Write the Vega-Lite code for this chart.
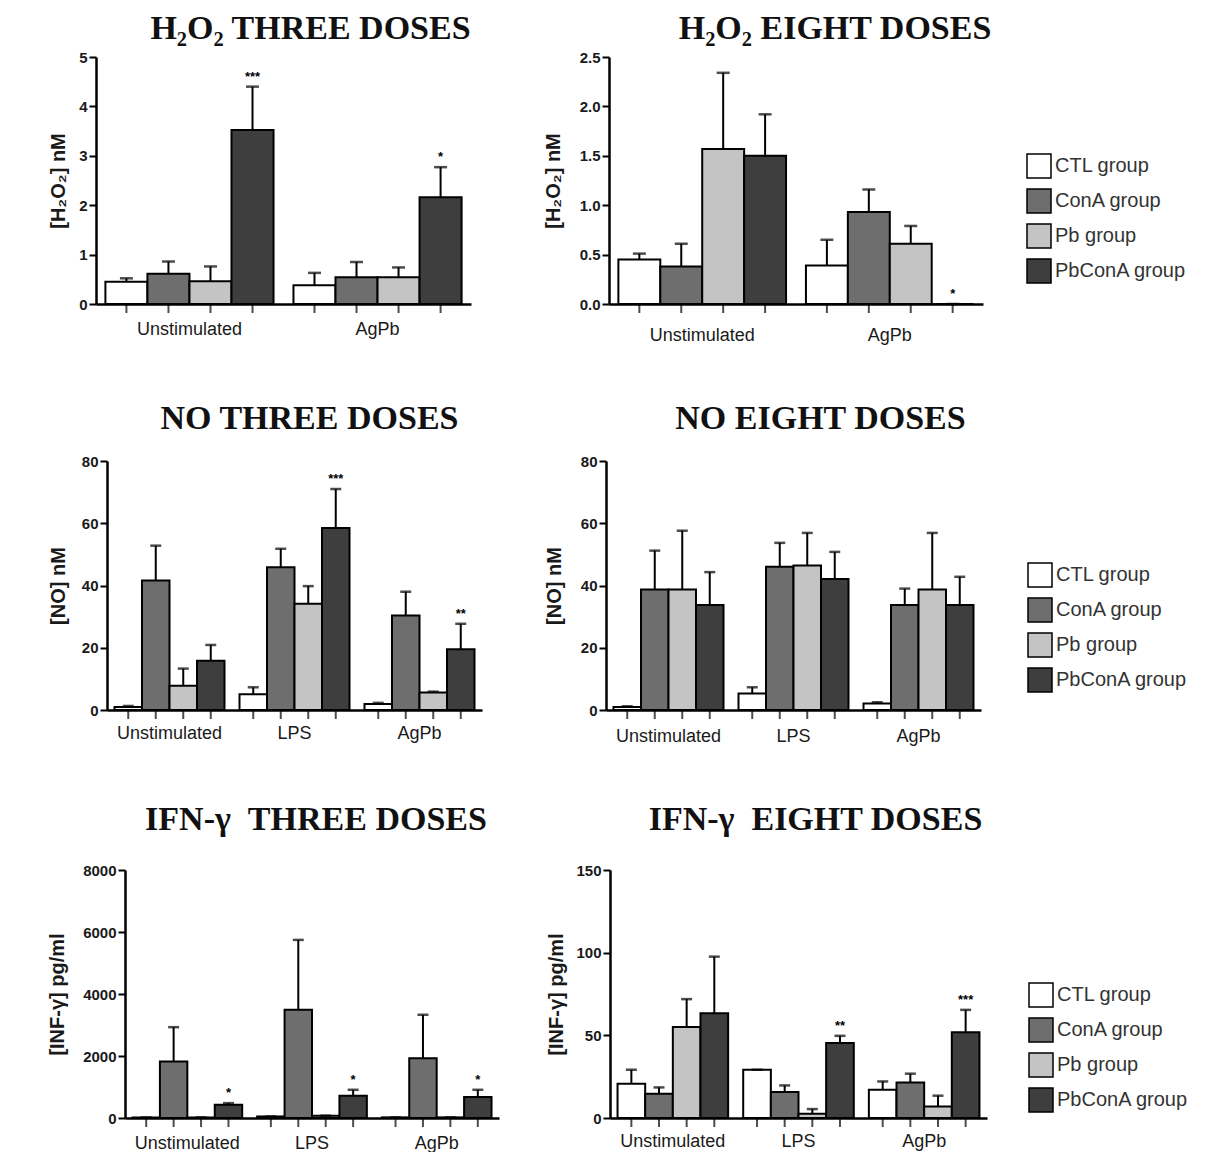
{
"$schema":"https://vega.github.io/schema/vega-lite/v6.json",
"padding":{"left":0,"top":12,"right":0,"bottom":0},
"background":"white",
"datasets":{"d":[
{"p":"h3","s":"Unstimulated","g":"CTL group","v":0.45,"u":0.52,"sig":""},
{"p":"h3","s":"Unstimulated","g":"ConA group","v":0.61,"u":0.86,"sig":""},
{"p":"h3","s":"Unstimulated","g":"Pb group","v":0.46,"u":0.76,"sig":""},
{"p":"h3","s":"Unstimulated","g":"PbConA group","v":3.52,"u":4.40,"sig":"***"},
{"p":"h3","s":"AgPb","g":"CTL group","v":0.38,"u":0.63,"sig":""},
{"p":"h3","s":"AgPb","g":"ConA group","v":0.54,"u":0.85,"sig":""},
{"p":"h3","s":"AgPb","g":"Pb group","v":0.54,"u":0.74,"sig":""},
{"p":"h3","s":"AgPb","g":"PbConA group","v":2.16,"u":2.77,"sig":"*"},
{"p":"h8","s":"Unstimulated","g":"CTL group","v":0.45,"u":0.51,"sig":""},
{"p":"h8","s":"Unstimulated","g":"ConA group","v":0.38,"u":0.61,"sig":""},
{"p":"h8","s":"Unstimulated","g":"Pb group","v":1.57,"u":2.34,"sig":""},
{"p":"h8","s":"Unstimulated","g":"PbConA group","v":1.50,"u":1.92,"sig":""},
{"p":"h8","s":"AgPb","g":"CTL group","v":0.39,"u":0.65,"sig":""},
{"p":"h8","s":"AgPb","g":"ConA group","v":0.93,"u":1.16,"sig":""},
{"p":"h8","s":"AgPb","g":"Pb group","v":0.61,"u":0.79,"sig":""},
{"p":"h8","s":"AgPb","g":"PbConA group","v":0,"u":0,"sig":"*"},
{"p":"n3","s":"Unstimulated","g":"CTL group","v":1.0,"u":1.3,"sig":""},
{"p":"n3","s":"Unstimulated","g":"ConA group","v":41.6,"u":52.8,"sig":""},
{"p":"n3","s":"Unstimulated","g":"Pb group","v":7.8,"u":13.3,"sig":""},
{"p":"n3","s":"Unstimulated","g":"PbConA group","v":15.8,"u":20.9,"sig":""},
{"p":"n3","s":"LPS","g":"CTL group","v":5.1,"u":7.3,"sig":""},
{"p":"n3","s":"LPS","g":"ConA group","v":45.9,"u":51.8,"sig":""},
{"p":"n3","s":"LPS","g":"Pb group","v":34.1,"u":39.8,"sig":""},
{"p":"n3","s":"LPS","g":"PbConA group","v":58.5,"u":71.0,"sig":"***"},
{"p":"n3","s":"AgPb","g":"CTL group","v":1.9,"u":2.3,"sig":""},
{"p":"n3","s":"AgPb","g":"ConA group","v":30.4,"u":38.0,"sig":""},
{"p":"n3","s":"AgPb","g":"Pb group","v":5.6,"u":5.9,"sig":""},
{"p":"n3","s":"AgPb","g":"PbConA group","v":19.5,"u":27.7,"sig":"**"},
{"p":"n8","s":"Unstimulated","g":"CTL group","v":1.0,"u":1.2,"sig":""},
{"p":"n8","s":"Unstimulated","g":"ConA group","v":38.7,"u":51.2,"sig":""},
{"p":"n8","s":"Unstimulated","g":"Pb group","v":38.7,"u":57.6,"sig":""},
{"p":"n8","s":"Unstimulated","g":"PbConA group","v":33.7,"u":44.3,"sig":""},
{"p":"n8","s":"LPS","g":"CTL group","v":5.3,"u":7.3,"sig":""},
{"p":"n8","s":"LPS","g":"ConA group","v":46.0,"u":53.7,"sig":""},
{"p":"n8","s":"LPS","g":"Pb group","v":46.4,"u":56.9,"sig":""},
{"p":"n8","s":"LPS","g":"PbConA group","v":42.1,"u":50.8,"sig":""},
{"p":"n8","s":"AgPb","g":"CTL group","v":2.1,"u":2.5,"sig":""},
{"p":"n8","s":"AgPb","g":"ConA group","v":33.7,"u":39.0,"sig":""},
{"p":"n8","s":"AgPb","g":"Pb group","v":38.7,"u":56.9,"sig":""},
{"p":"n8","s":"AgPb","g":"PbConA group","v":33.7,"u":42.8,"sig":""},
{"p":"i3","s":"Unstimulated","g":"CTL group","v":20,"u":20,"sig":""},
{"p":"i3","s":"Unstimulated","g":"ConA group","v":1825,"u":2930,"sig":""},
{"p":"i3","s":"Unstimulated","g":"Pb group","v":20,"u":20,"sig":""},
{"p":"i3","s":"Unstimulated","g":"PbConA group","v":430,"u":480,"sig":"*"},
{"p":"i3","s":"LPS","g":"CTL group","v":50,"u":50,"sig":""},
{"p":"i3","s":"LPS","g":"ConA group","v":3490,"u":5745,"sig":""},
{"p":"i3","s":"LPS","g":"Pb group","v":75,"u":75,"sig":""},
{"p":"i3","s":"LPS","g":"PbConA group","v":720,"u":910,"sig":"*"},
{"p":"i3","s":"AgPb","g":"CTL group","v":20,"u":20,"sig":""},
{"p":"i3","s":"AgPb","g":"ConA group","v":1930,"u":3330,"sig":""},
{"p":"i3","s":"AgPb","g":"Pb group","v":20,"u":20,"sig":""},
{"p":"i3","s":"AgPb","g":"PbConA group","v":680,"u":910,"sig":"*"},
{"p":"i8","s":"Unstimulated","g":"CTL group","v":20.7,"u":29.2,"sig":""},
{"p":"i8","s":"Unstimulated","g":"ConA group","v":14.7,"u":18.5,"sig":""},
{"p":"i8","s":"Unstimulated","g":"Pb group","v":55.0,"u":71.9,"sig":""},
{"p":"i8","s":"Unstimulated","g":"PbConA group","v":63.4,"u":97.6,"sig":""},
{"p":"i8","s":"LPS","g":"CTL group","v":29.2,"u":29.2,"sig":""},
{"p":"i8","s":"LPS","g":"ConA group","v":15.7,"u":19.7,"sig":""},
{"p":"i8","s":"LPS","g":"Pb group","v":2.6,"u":5.4,"sig":""},
{"p":"i8","s":"LPS","g":"PbConA group","v":45.3,"u":49.7,"sig":"**"},
{"p":"i8","s":"AgPb","g":"CTL group","v":17.1,"u":22.1,"sig":""},
{"p":"i8","s":"AgPb","g":"ConA group","v":21.5,"u":26.8,"sig":""},
{"p":"i8","s":"AgPb","g":"Pb group","v":7.0,"u":13.5,"sig":""},
{"p":"i8","s":"AgPb","g":"PbConA group","v":51.9,"u":65.4,"sig":"***"}
]},
"config":{
 "view":{"stroke":null},
 "axis":{"grid":false,"domainColor":"black","domainWidth":2.5,"tickColor":"black","tickWidth":2,"tickSize":7,"labelFont":"Liberation Sans","titleFont":"Liberation Sans","labelColor":"#1a1a1a","titleColor":"#1a1a1a"},
 "axisY":{"labelFontSize":15,"labelFontWeight":"bold","titleFontSize":20,"titleFontWeight":"bold","labelPadding":2},
 "axisX":{"labelFontSize":18,"labelFontWeight":"normal"},
 "legend":{"symbolType":"square","symbolSize":576,"symbolStrokeColor":"black","symbolStrokeWidth":1.5,"labelFont":"Liberation Sans","labelFontSize":20,"labelColor":"#333","labelOffset":3,"rowPadding":5,"padding":0},
 "title":{"font":"Liberation Serif","fontSize":34,"fontWeight":"bold","color":"#111","anchor":"middle","frame":"group","baseline":"alphabetic"}
},
"spacing":58,
"resolve":{"scale":{"color":"independent","xOffset":"independent","x":"independent","y":"independent"},"legend":{"color":"independent"}},
"vconcat":[
 {"spacing":0,
  "resolve":{"scale":{"color":"independent","xOffset":"independent","y":"independent","x":"independent"},"legend":{"color":"independent"}},
  "hconcat":[
  {"width":48,"height":10,"data":{"values":[{}]},"mark":{"type":"point","opacity":0}},
  {"spacing":72,
   "resolve":{"scale":{"color":"independent","xOffset":"independent","y":"independent","x":"independent"},"legend":{"color":"independent"}},
   "hconcat":[
      {"width":375,"height":247,
       "title":{"text":"H₂O₂ THREE DOSES","dx":27,"offset":4},
       "data":{"name":"d"},"transform":[{"filter":"datum.p==='h3'"}],
       "encoding":{
        "x":{"field":"s","type":"nominal","sort":["Unstimulated","AgPb"],"scale":{"paddingInner":0.106,"paddingOuter":0.05},"axis":{"title":null,"labelAngle":0,"ticks":false,"labelPadding":16}},
        "xOffset":{"field":"g","type":"nominal","sort":["CTL group","ConA group","Pb group","PbConA group"]}},
       "layer":[
        {"mark":{"type":"bar","stroke":"black","strokeWidth":2},
         "encoding":{"y":{"field":"v","type":"quantitative","scale":{"domain":[0,5],"nice":false},"axis":{"title":"[H₂O₂] nM","values":[0,1,2,3,4,5],"titlePadding":10}},
          "color":{"field":"g","type":"nominal","scale":{"domain":["CTL group","ConA group","Pb group","PbConA group"],"range":["#ffffff","#6e6e6e","#c4c4c4","#3e3e3e"]},"legend":null}}},
        {"mark":{"type":"rule","strokeWidth":2,"color":"black"},"encoding":{"y":{"field":"v","type":"quantitative","title":"[H₂O₂] nM"},"y2":{"field":"u"}}},
        {"mark":{"type":"tick","orient":"horizontal","size":13,"thickness":2.5,"color":"black"},"encoding":{"y":{"field":"u","type":"quantitative","title":"[H₂O₂] nM"}}},
        {"mark":{"type":"tick","orient":"vertical","size":9,"thickness":2,"color":"black","yOffset":4.5},"encoding":{"y":{"datum":0,"type":"quantitative","title":"[H₂O₂] nM"}}},
        {"mark":{"type":"text","baseline":"bottom","dy":-3,"fontSize":13,"fontWeight":"bold","font":"Liberation Sans"},"encoding":{"y":{"field":"u","type":"quantitative","title":"[H₂O₂] nM"},"text":{"field":"sig"}}}
       ]},
      {"width":374,"height":247,
       "title":{"text":"H₂O₂ EIGHT DOSES","dx":39,"offset":4},
       "data":{"name":"d"},"transform":[{"filter":"datum.p==='h8'"}],
       "encoding":{
        "x":{"field":"s","type":"nominal","sort":["Unstimulated","AgPb"],"scale":{"paddingInner":0.106,"paddingOuter":0.05},"axis":{"title":null,"labelAngle":0,"ticks":false,"labelPadding":22}},
        "xOffset":{"field":"g","type":"nominal","sort":["CTL group","ConA group","Pb group","PbConA group"]}},
       "layer":[
        {"mark":{"type":"bar","stroke":"black","strokeWidth":2},
         "encoding":{"y":{"field":"v","type":"quantitative","scale":{"domain":[0,2.5],"nice":false},"axis":{"title":"[H₂O₂] nM","values":[0,0.5,1,1.5,2,2.5],"format":".1f","titlePadding":16}},
          "color":{"field":"g","type":"nominal","scale":{"domain":["CTL group","ConA group","Pb group","PbConA group"],"range":["#ffffff","#6e6e6e","#c4c4c4","#3e3e3e"]},"legend":{"title":null,"orient":"none","legendX":417,"legendY":96}}}},
        {"mark":{"type":"rule","strokeWidth":2,"color":"black"},"encoding":{"y":{"field":"v","type":"quantitative","title":"[H₂O₂] nM"},"y2":{"field":"u"}}},
        {"mark":{"type":"tick","orient":"horizontal","size":13,"thickness":2.5,"color":"black"},"encoding":{"y":{"field":"u","type":"quantitative","title":"[H₂O₂] nM"}}},
        {"mark":{"type":"tick","orient":"vertical","size":9,"thickness":2,"color":"black","yOffset":4.5},"encoding":{"y":{"datum":0,"type":"quantitative","title":"[H₂O₂] nM"}}},
        {"mark":{"type":"text","baseline":"bottom","dy":-3,"fontSize":13,"fontWeight":"bold","font":"Liberation Sans"},"encoding":{"y":{"field":"u","type":"quantitative","title":"[H₂O₂] nM"},"text":{"field":"sig"}}}
       ]}
   ]}
  ]},
 {"spacing":0,
  "resolve":{"scale":{"color":"independent","xOffset":"independent","y":"independent","x":"independent"},"legend":{"color":"independent"}},
  "hconcat":[
  {"width":48,"height":10,"data":{"values":[{}]},"mark":{"type":"point","opacity":0}},
  {"spacing":62,
   "resolve":{"scale":{"color":"independent","xOffset":"independent","y":"independent","x":"independent"},"legend":{"color":"independent"}},
   "hconcat":[
      {"width":375,"height":249,
       "title":{"text":"NO THREE DOSES","dx":15,"offset":18},
       "data":{"name":"d"},"transform":[{"filter":"datum.p==='n3'"}],
       "encoding":{
        "x":{"field":"s","type":"nominal","sort":["Unstimulated","LPS","AgPb"],"scale":{"paddingInner":0.12,"paddingOuter":0.06},"axis":{"title":null,"labelAngle":0,"ticks":false,"labelPadding":14}},
        "xOffset":{"field":"g","type":"nominal","sort":["CTL group","ConA group","Pb group","PbConA group"]}},
       "layer":[
        {"mark":{"type":"bar","stroke":"black","strokeWidth":2},
         "encoding":{"y":{"field":"v","type":"quantitative","scale":{"domain":[0,80],"nice":false},"axis":{"title":"[NO] nM","values":[0,20,40,60,80],"titlePadding":13}},
          "color":{"field":"g","type":"nominal","scale":{"domain":["CTL group","ConA group","Pb group","PbConA group"],"range":["#ffffff","#6e6e6e","#c4c4c4","#3e3e3e"]},"legend":null}}},
        {"mark":{"type":"rule","strokeWidth":2,"color":"black"},"encoding":{"y":{"field":"v","type":"quantitative","title":"[NO] nM"},"y2":{"field":"u"}}},
        {"mark":{"type":"tick","orient":"horizontal","size":11,"thickness":2.5,"color":"black"},"encoding":{"y":{"field":"u","type":"quantitative","title":"[NO] nM"}}},
        {"mark":{"type":"tick","orient":"vertical","size":9,"thickness":2,"color":"black","yOffset":4.5},"encoding":{"y":{"datum":0,"type":"quantitative","title":"[NO] nM"}}},
        {"mark":{"type":"text","baseline":"bottom","dy":-3,"fontSize":13,"fontWeight":"bold","font":"Liberation Sans"},"encoding":{"y":{"field":"u","type":"quantitative","title":"[NO] nM"},"text":{"field":"sig"}}}
       ]},
      {"width":375,"height":249,
       "title":{"text":"NO EIGHT DOSES","dx":27,"offset":18},
       "data":{"name":"d"},"transform":[{"filter":"datum.p==='n8'"}],
       "encoding":{
        "x":{"field":"s","type":"nominal","sort":["Unstimulated","LPS","AgPb"],"scale":{"paddingInner":0.12,"paddingOuter":0.06},"axis":{"title":null,"labelAngle":0,"ticks":false,"labelPadding":17}},
        "xOffset":{"field":"g","type":"nominal","sort":["CTL group","ConA group","Pb group","PbConA group"]}},
       "layer":[
        {"mark":{"type":"bar","stroke":"black","strokeWidth":2},
         "encoding":{"y":{"field":"v","type":"quantitative","scale":{"domain":[0,80],"nice":false},"axis":{"title":"[NO] nM","values":[0,20,40,60,80],"titlePadding":16}},
          "color":{"field":"g","type":"nominal","scale":{"domain":["CTL group","ConA group","Pb group","PbConA group"],"range":["#ffffff","#6e6e6e","#c4c4c4","#3e3e3e"]},"legend":{"title":null,"orient":"none","legendX":421,"legendY":101}}}},
        {"mark":{"type":"rule","strokeWidth":2,"color":"black"},"encoding":{"y":{"field":"v","type":"quantitative","title":"[NO] nM"},"y2":{"field":"u"}}},
        {"mark":{"type":"tick","orient":"horizontal","size":11,"thickness":2.5,"color":"black"},"encoding":{"y":{"field":"u","type":"quantitative","title":"[NO] nM"}}},
        {"mark":{"type":"tick","orient":"vertical","size":9,"thickness":2,"color":"black","yOffset":4.5},"encoding":{"y":{"datum":0,"type":"quantitative","title":"[NO] nM"}}},
        {"mark":{"type":"text","baseline":"bottom","dy":-3,"fontSize":13,"fontWeight":"bold","font":"Liberation Sans"},"encoding":{"y":{"field":"u","type":"quantitative","title":"[NO] nM"},"text":{"field":"sig"}}}
       ]}
   ]}
  ]},
 {"spacing":0,
  "resolve":{"scale":{"color":"independent","xOffset":"independent","y":"independent","x":"independent"},"legend":{"color":"independent"}},
  "hconcat":[
  {"width":47,"height":10,"data":{"values":[{}]},"mark":{"type":"point","opacity":0}},
  {"spacing":47,
   "resolve":{"scale":{"color":"independent","xOffset":"independent","y":"independent","x":"independent"},"legend":{"color":"independent"}},
   "hconcat":[
      {"width":374,"height":248,
       "title":{"text":"IFN-γ \u00a0THREE DOSES","dx":4,"offset":26},
       "data":{"name":"d"},"transform":[{"filter":"datum.p==='i3'"}],
       "encoding":{
        "x":{"field":"s","type":"nominal","sort":["Unstimulated","LPS","AgPb"],"scale":{"paddingInner":0.12,"paddingOuter":0.06},"axis":{"title":null,"labelAngle":0,"ticks":false,"labelPadding":16}},
        "xOffset":{"field":"g","type":"nominal","sort":["CTL group","ConA group","Pb group","PbConA group"]}},
       "layer":[
        {"mark":{"type":"bar","stroke":"black","strokeWidth":2},
         "encoding":{"y":{"field":"v","type":"quantitative","scale":{"domain":[0,8000],"nice":false},"axis":{"title":"[INF-γ] pg/ml","values":[0,2000,4000,6000,8000],"format":"d","titlePadding":15}},
          "color":{"field":"g","type":"nominal","scale":{"domain":["CTL group","ConA group","Pb group","PbConA group"],"range":["#ffffff","#6e6e6e","#c4c4c4","#3e3e3e"]},"legend":null}}},
        {"mark":{"type":"rule","strokeWidth":2,"color":"black"},"encoding":{"y":{"field":"v","type":"quantitative","title":"[INF-γ] pg/ml"},"y2":{"field":"u"}}},
        {"mark":{"type":"tick","orient":"horizontal","size":11,"thickness":2.5,"color":"black"},"encoding":{"y":{"field":"u","type":"quantitative","title":"[INF-γ] pg/ml"}}},
        {"mark":{"type":"tick","orient":"vertical","size":9,"thickness":2,"color":"black","yOffset":4.5},"encoding":{"y":{"datum":0,"type":"quantitative","title":"[INF-γ] pg/ml"}}},
        {"mark":{"type":"text","baseline":"bottom","dy":-3,"fontSize":13,"fontWeight":"bold","font":"Liberation Sans"},"encoding":{"y":{"field":"u","type":"quantitative","title":"[INF-γ] pg/ml"},"text":{"field":"sig"}}}
       ]},
      {"width":377,"height":248,
       "title":{"text":"IFN-γ \u00a0EIGHT DOSES","dx":17,"offset":26},
       "data":{"name":"d"},"transform":[{"filter":"datum.p==='i8'"}],
       "encoding":{
        "x":{"field":"s","type":"nominal","sort":["Unstimulated","LPS","AgPb"],"scale":{"paddingInner":0.12,"paddingOuter":0.06},"axis":{"title":null,"labelAngle":0,"ticks":false,"labelPadding":14}},
        "xOffset":{"field":"g","type":"nominal","sort":["CTL group","ConA group","Pb group","PbConA group"]}},
       "layer":[
        {"mark":{"type":"bar","stroke":"black","strokeWidth":2},
         "encoding":{"y":{"field":"v","type":"quantitative","scale":{"domain":[0,150],"nice":false},"axis":{"title":"[INF-γ] pg/ml","values":[0,50,100,150],"titlePadding":9}},
          "color":{"field":"g","type":"nominal","scale":{"domain":["CTL group","ConA group","Pb group","PbConA group"],"range":["#ffffff","#6e6e6e","#c4c4c4","#3e3e3e"]},"legend":{"title":null,"orient":"none","legendX":418,"legendY":112}}}},
        {"mark":{"type":"rule","strokeWidth":2,"color":"black"},"encoding":{"y":{"field":"v","type":"quantitative","title":"[INF-γ] pg/ml"},"y2":{"field":"u"}}},
        {"mark":{"type":"tick","orient":"horizontal","size":11,"thickness":2.5,"color":"black"},"encoding":{"y":{"field":"u","type":"quantitative","title":"[INF-γ] pg/ml"}}},
        {"mark":{"type":"tick","orient":"vertical","size":9,"thickness":2,"color":"black","yOffset":4.5},"encoding":{"y":{"datum":0,"type":"quantitative","title":"[INF-γ] pg/ml"}}},
        {"mark":{"type":"text","baseline":"bottom","dy":-3,"fontSize":13,"fontWeight":"bold","font":"Liberation Sans"},"encoding":{"y":{"field":"u","type":"quantitative","title":"[INF-γ] pg/ml"},"text":{"field":"sig"}}}
       ]}
   ]}
  ]}
]
}
